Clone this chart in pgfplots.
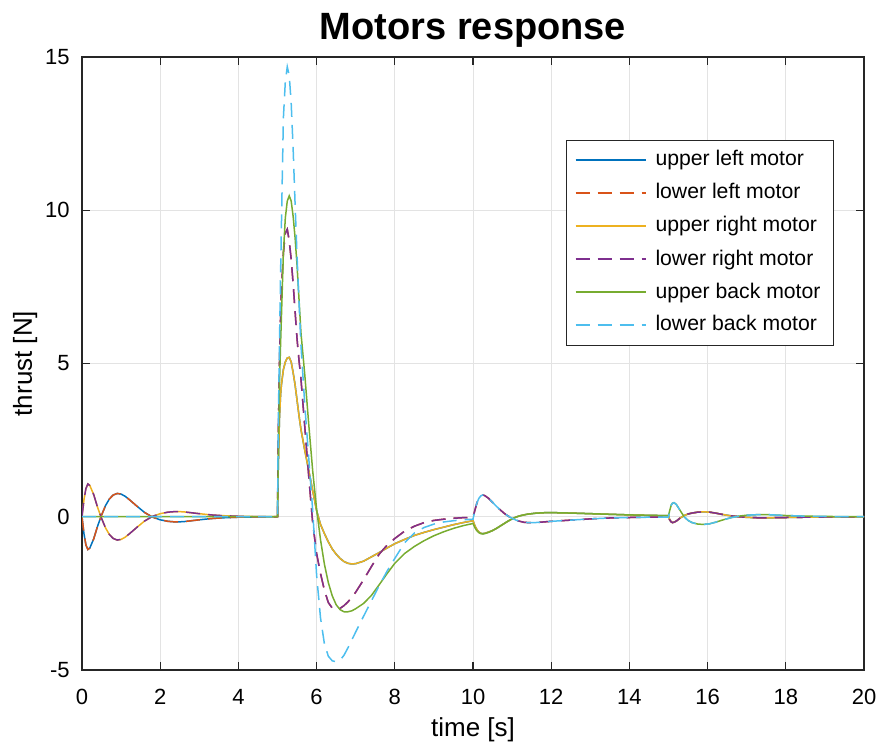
\documentclass[border=0pt]{standalone}
\usepackage{fontspec}
\setmainfont{Liberation Sans}
\usepackage{pgfplots}
\pgfplotsset{compat=1.18}
\usepackage{pgfplotstable}

\definecolor{mblue}{rgb}{0,0.447,0.741}
\definecolor{morange}{rgb}{0.85,0.325,0.098}
\definecolor{myellow}{rgb}{0.929,0.694,0.125}
\definecolor{mpurple}{rgb}{0.494,0.184,0.556}
\definecolor{mgreen}{rgb}{0.466,0.674,0.188}
\definecolor{mcyan}{rgb}{0.301,0.745,0.933}

\pgfplotstableread{
t UL LL UR LR UB LB
0 0 0 0 0 0 0
0.05 -0.55 -0.55 0.55 0.55 0 0
0.1 -0.92 -0.92 0.92 0.92 0 0
0.15 -1.07 -1.07 1.07 1.07 0 0
0.2 -1.02 -1.02 1.02 1.02 0 0
0.3 -0.72 -0.72 0.72 0.72 0 0
0.4 -0.30 -0.30 0.30 0.30 0 0
0.5 0.05 0.05 -0.05 -0.05 0 0
0.6 0.36 0.36 -0.36 -0.36 0 0
0.7 0.58 0.58 -0.58 -0.58 0 0
0.8 0.71 0.71 -0.71 -0.71 0 0
0.9 0.76 0.76 -0.76 -0.76 0 0
1.0 0.74 0.74 -0.74 -0.74 0 0
1.1 0.67 0.67 -0.67 -0.67 0 0
1.2 0.57 0.57 -0.57 -0.57 0 0
1.4 0.35 0.35 -0.35 -0.35 0 0
1.6 0.14 0.14 -0.14 -0.14 0 0
1.8 -0.01 -0.01 0.01 0.01 0 0
2.0 -0.10 -0.10 0.10 0.10 0 0
2.2 -0.15 -0.15 0.15 0.15 0 0
2.4 -0.17 -0.17 0.17 0.17 0 0
2.6 -0.16 -0.16 0.16 0.16 0 0
2.8 -0.13 -0.13 0.13 0.13 0 0
3.0 -0.10 -0.10 0.10 0.10 0 0
3.3 -0.06 -0.06 0.06 0.06 0 0
3.6 -0.035 -0.035 0.035 0.035 0 0
4.0 -0.015 -0.015 0.015 0.015 0 0
4.5 -0.005 -0.005 0.005 0.005 0 0
5.0 0 0 0 0 0 0
5.02 1.6 2.6 1.6 2.6 2.0 3.0
5.05 3.2 5.0 3.2 5.0 4.3 5.6
5.08 4.0 6.6 4.0 6.6 5.7 8.0
5.1 4.3 7.4 4.3 7.4 6.5 9.5
5.15 4.8 8.6 4.8 8.6 8.6 13.0
5.2 5.05 9.25 5.05 9.25 9.75 14.2
5.25 5.18 9.38 5.18 9.38 10.3 14.68
5.3 5.2 9.0 5.2 9.0 10.47 14.4
5.35 5.05 8.4 5.05 8.4 10.3 13.5
5.4 4.7 7.6 4.7 7.6 9.8 12.0
5.45 4.3 6.7 4.3 6.7 9.1 10.2
5.5 3.8 5.8 3.8 5.8 8.2 8.5
5.55 3.3 5.1 3.3 5.1 7.1 7.0
5.6 2.85 4.5 2.85 4.5 6.0 5.6
5.7 2.15 2.9 2.15 2.9 4.6 3.6
5.8 1.5 1.3 1.5 1.3 3.0 1.9
5.9 0.85 -0.2 0.85 -0.2 1.5 0.2
6.0 0.2 -1.2 0.2 -1.2 0.25 -1.9
6.1 -0.25 -1.85 -0.25 -1.85 -0.75 -3.3
6.2 -0.55 -2.4 -0.55 -2.4 -1.55 -4.15
6.3 -0.82 -2.8 -0.82 -2.8 -2.15 -4.55
6.4 -1.05 -2.98 -1.05 -2.98 -2.58 -4.7
6.5 -1.22 -3.04 -1.22 -3.04 -2.87 -4.73
6.6 -1.36 -2.99 -1.36 -2.99 -3.03 -4.68
6.7 -1.46 -2.9 -1.46 -2.9 -3.1 -4.52
6.8 -1.52 -2.78 -1.52 -2.78 -3.1 -4.28
6.9 -1.54 -2.63 -1.54 -2.63 -3.07 -4.02
7.0 -1.53 -2.46 -1.53 -2.46 -3.0 -3.76
7.2 -1.45 -2.06 -1.45 -2.06 -2.83 -3.25
7.4 -1.31 -1.63 -1.31 -1.63 -2.57 -2.75
7.6 -1.17 -1.22 -1.17 -1.22 -2.22 -2.25
7.8 -1.02 -0.93 -1.02 -0.93 -1.86 -1.78
8.0 -0.88 -0.71 -0.88 -0.71 -1.52 -1.36
8.25 -0.74 -0.47 -0.74 -0.47 -1.2 -0.85
8.5 -0.61 -0.31 -0.61 -0.31 -0.97 -0.53
8.75 -0.51 -0.19 -0.51 -0.19 -0.78 -0.35
9.0 -0.42 -0.12 -0.42 -0.12 -0.62 -0.24
9.25 -0.34 -0.08 -0.34 -0.08 -0.49 -0.17
9.5 -0.26 -0.05 -0.26 -0.05 -0.38 -0.13
9.75 -0.19 -0.03 -0.19 -0.03 -0.29 -0.1
10.0 -0.13 -0.02 -0.13 -0.02 -0.22 -0.08
10.05 -0.3 0.22 -0.3 0.22 -0.36 0.22
10.1 -0.42 0.45 -0.42 0.45 -0.46 0.45
10.15 -0.5 0.6 -0.5 0.6 -0.52 0.6
10.2 -0.54 0.68 -0.54 0.68 -0.55 0.68
10.25 -0.55 0.71 -0.55 0.71 -0.56 0.71
10.3 -0.54 0.69 -0.54 0.69 -0.55 0.69
10.4 -0.5 0.6 -0.5 0.6 -0.51 0.6
10.5 -0.45 0.47 -0.45 0.47 -0.45 0.47
10.6 -0.38 0.34 -0.38 0.34 -0.38 0.34
10.7 -0.3 0.22 -0.3 0.22 -0.3 0.22
10.8 -0.22 0.11 -0.22 0.11 -0.22 0.11
10.9 -0.14 0.02 -0.14 0.02 -0.14 0.02
11.0 -0.07 -0.05 -0.07 -0.05 -0.07 -0.05
11.1 -0.01 -0.11 -0.01 -0.11 -0.01 -0.11
11.2 0.03 -0.15 0.03 -0.15 0.03 -0.15
11.3 0.06 -0.18 0.06 -0.18 0.06 -0.18
11.4 0.085 -0.19 0.085 -0.19 0.085 -0.19
11.6 0.115 -0.19 0.115 -0.19 0.115 -0.19
11.8 0.13 -0.17 0.13 -0.17 0.13 -0.17
12.0 0.135 -0.15 0.135 -0.15 0.135 -0.15
12.5 0.12 -0.11 0.12 -0.11 0.12 -0.11
13.0 0.1 -0.07 0.1 -0.07 0.1 -0.07
13.5 0.08 -0.04 0.08 -0.04 0.08 -0.04
14.0 0.06 -0.025 0.06 -0.025 0.06 -0.025
14.5 0.045 -0.015 0.045 -0.015 0.045 -0.015
15.0 0.035 -0.01 0.035 -0.01 0.035 -0.01
15.03 -0.1 -0.1 -0.1 -0.1 0.2 0.2
15.07 -0.17 -0.17 -0.17 -0.17 0.38 0.38
15.1 -0.19 -0.19 -0.19 -0.19 0.44 0.44
15.14 -0.18 -0.18 -0.18 -0.18 0.46 0.46
15.2 -0.14 -0.14 -0.14 -0.14 0.4 0.4
15.3 -0.04 -0.04 -0.04 -0.04 0.2 0.2
15.4 0.04 0.04 0.04 0.04 0.0 0.0
15.5 0.09 0.09 0.09 0.09 -0.12 -0.12
15.6 0.12 0.12 0.12 0.12 -0.19 -0.19
15.75 0.15 0.15 0.15 0.15 -0.24 -0.24
15.9 0.16 0.16 0.16 0.16 -0.25 -0.25
16.05 0.15 0.15 0.15 0.15 -0.23 -0.23
16.2 0.12 0.12 0.12 0.12 -0.18 -0.18
16.4 0.07 0.07 0.07 0.07 -0.1 -0.1
16.6 0.03 0.03 0.03 0.03 -0.03 -0.03
16.8 0.0 0.0 0.0 0.0 0.02 0.02
17.0 -0.02 -0.02 -0.02 -0.02 0.05 0.05
17.3 -0.035 -0.035 -0.035 -0.035 0.07 0.07
17.6 -0.035 -0.035 -0.035 -0.035 0.065 0.065
18.0 -0.025 -0.025 -0.025 -0.025 0.04 0.04
18.5 -0.015 -0.015 -0.015 -0.015 0.02 0.02
19.0 -0.008 -0.008 -0.008 -0.008 0.01 0.01
20.0 0 0 0 0 0 0
}\motors

\begin{document}
\begin{tikzpicture}
\path[use as bounding box] (-41pt,-38.5pt) rectangle (399.5pt,335pt);
\begin{axis}[
  at={(0,0)}, anchor=south west,
  scale only axis, width=391pt, height=306.5pt,
  xmin=0, xmax=20, ymin=-5, ymax=15,
  xtick={0,2,...,20}, ytick={-5,0,5,10,15},
  grid=major,
  major grid style={draw=black!11, line width=0.5pt},
  axis line style={draw=black!85, line width=0.6pt},
  tick style={draw=black!85, line width=0.6pt},
  tick align=inside, major tick length=4pt,
  /pgf/number format/assume math mode=true,
  ticklabel style={font=\fontsize{11}{13}\selectfont},
  xticklabel style={anchor=base, yshift=-17.5pt, inner sep=0pt},
  yticklabel style={anchor=east, xshift=-6pt, inner sep=0pt},
  title={Motors response},
  every axis title/.style={font=\fontsize{19}{22}\selectfont\bfseries, at={(axis description cs:0.5,1)}, anchor=base, yshift=8.5pt},
  xlabel={time [s]},
  xlabel style={font=\fontsize{13}{15}\selectfont, at={(axis description cs:0.5,0)}, anchor=base, yshift=-33.5pt},
  ylabel={thrust [N]},
  ylabel style={font=\fontsize{13}{15}\selectfont, at={(axis description cs:-0.064,0.5)}, anchor=base},
  legend image code/.code={\draw[#1, line width=0.9pt] (0pt,0.25pt) -- (35pt,0.25pt);},
  legend cell align=left,
  legend style={at={(axis description cs:0.9616,0.8646)}, anchor=north east,
    draw=black!85, line width=0.5pt, fill=white,
    font=\fontsize{10.6}{12}\selectfont,
    inner xsep=4pt, inner ysep=3.25pt, row sep=3pt, column sep=2pt,
    nodes={inner xsep=2.5pt, inner ysep=1.5pt, text height=8pt, text depth=2.5pt}},
  every axis plot/.append style={line width=0.75pt},
]
\addplot[mblue] table[x=t,y=UL] {\motors};
\addlegendentry{upper left motor}
\addplot[morange, dash pattern=on 7pt off 4pt] table[x=t,y=LL] {\motors};
\addlegendentry{lower left motor}
\addplot[myellow] table[x=t,y=UR] {\motors};
\addlegendentry{upper right motor}
\addplot[mpurple, dash pattern=on 7pt off 4pt] table[x=t,y=LR] {\motors};
\addlegendentry{lower right motor}
\addplot[mgreen] table[x=t,y=UB] {\motors};
\addlegendentry{upper back motor}
\addplot[mcyan, dash pattern=on 7pt off 4pt] table[x=t,y=LB] {\motors};
\addlegendentry{lower back motor}
\end{axis}
\end{tikzpicture}
\end{document}
